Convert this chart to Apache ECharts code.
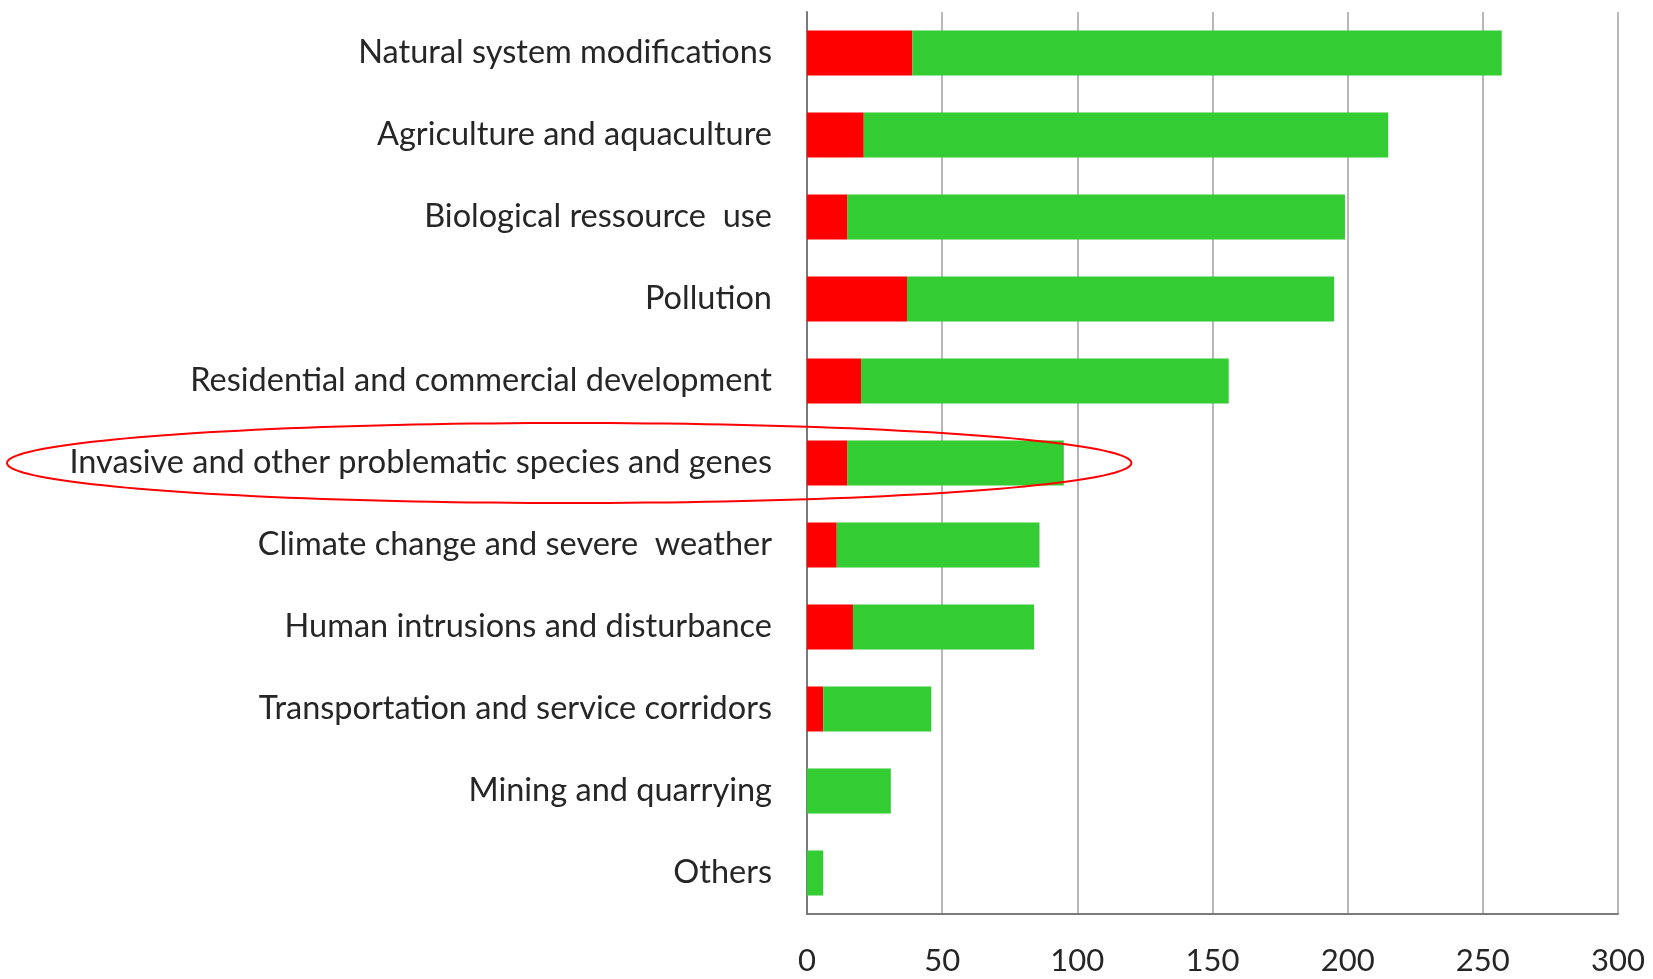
<!DOCTYPE html>
<html>
<head>
<meta charset="utf-8">
<script src="https://cdn.jsdelivr.net/npm/echarts@6/dist/echarts.min.js"></script>
<style>
    html, body { margin: 0; padding: 0; background: #fff; }
    #chart { width: 1653px; height: 979px; }
</style>
</head>
<body>
<div id="chart"></div>
<script>
const categories = [
    'Natural system modifications',
    'Agriculture and aquaculture',
    'Biological ressource  use',
    'Pollution',
    'Residential and commercial development',
    'Invasive and other problematic species and genes',
    'Climate change and severe  weather',
    'Human intrusions and disturbance',
    'Transportation and service corridors',
    'Mining and quarrying',
    'Others'
]
const redValues = [39, 21, 15, 37, 20, 15, 11, 17, 6, 0, 0]
const greenValues = [218, 194, 184, 158, 136, 80, 75, 67, 40, 31, 6]
const xTicks = [0, 50, 100, 150, 200, 250, 300]

const highlighted = 'Invasive and other problematic species and genes'

var chartDom = document.getElementById('chart');
var myChart = echarts.init(chartDom);
var option;

option = {
    animation: false,
    grid: {
        left: 807,
        right: 35,
        top: 12,
        bottom: 65
    },
    xAxis: {
        type: 'value',
        min: xTicks[0],
        max: xTicks[xTicks.length - 1],
        interval: 50,
        axisLine: { show: true, lineStyle: { color: '#7a7a7a', width: 2 } },
        axisTick: { show: false },
        splitLine: { show: true, lineStyle: { color: '#a0a0a0', width: 1.5 } },
        axisLabel: {
            margin: 31,
            fontFamily: 'Lato',
            fontSize: 31,
            color: '#262626'
        }
    },
    yAxis: {
        type: 'category',
        inverse: true,
        data: categories,
        axisLine: { show: true, lineStyle: { color: '#7a7a7a', width: 2 } },
        axisTick: { show: false },
        axisLabel: {
            margin: 35,
            fontFamily: 'Lato',
            fontSize: 32.5,
            color: '#262626'
        }
    },
    series: [
        {
            name: 'red',
            type: 'bar',
            stack: 'total',
            barWidth: 45,
            itemStyle: { color: '#ff0000' },
            data: redValues
        },
        {
            name: 'green',
            type: 'bar',
            stack: 'total',
            barWidth: 45,
            itemStyle: { color: '#33cc33' },
            data: greenValues
        }
    ]
};

option && myChart.setOption(option);

// red ellipse drawn round the highlighted row
var cy = myChart.convertToPixel({ yAxisIndex: 0 }, highlighted);
var rightX = myChart.convertToPixel({ xAxisIndex: 0 }, 120);
var leftX = 7;
var cx = (leftX + rightX) / 2, rx = (rightX - leftX) / 2, ry = 40;
var pts = [];
for (var i = 0; i < 180; i++) {
    var t = i / 180 * Math.PI * 2;
    pts.push([cx + rx * Math.cos(t), cy + ry * Math.sin(t)]);
}
myChart.setOption({
    graphic: [{
        type: 'polygon',
        shape: { points: pts },
        style: { fill: null, stroke: '#ff0000', lineWidth: 2 },
        z: 100
    }]
});
</script>
</body>
</html>
